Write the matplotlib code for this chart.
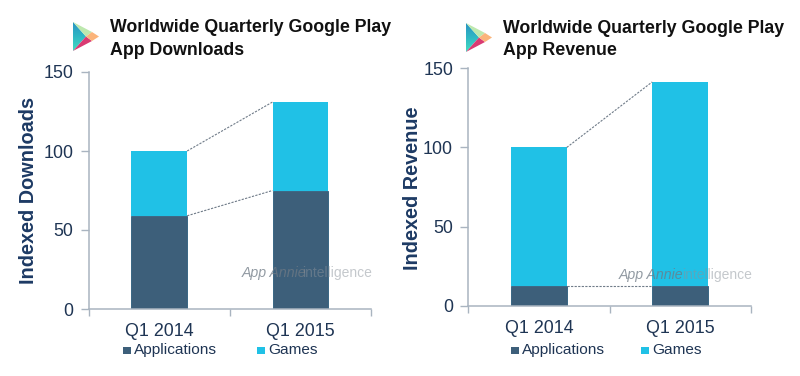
import matplotlib
matplotlib.use("Agg")
import matplotlib.pyplot as plt
import numpy as np
from matplotlib.colors import LinearSegmentedColormap
from matplotlib.patches import Polygon, Rectangle

plt.rcParams['font.family'] = ['Liberation Sans', 'DejaVu Sans']

W, H = 800, 376
quarters = ["Q1 2014", "Q1 2015"]
dl_apps = [59, 75]
dl_games = [41, 56]
rev_apps = [12.4, 12.4]
rev_games = [87.6, 129]
yticks = [0, 50, 100, 150]
series_names = ["Applications", "Games"]
C_APPS = "#3d5f7a"
C_GAMES = "#20c1e6"
C_AXIS = "#a9b4c0"
C_TEXT = "#1f3554"
C_LABEL = "#1d3a64"

fig = plt.figure(figsize=(W / 100, H / 100), dpi=100, facecolor="white")


def px_axes(x0, x1, ytop, ybot):
    return fig.add_axes([x0 / W, 1 - ybot / H, (x1 - x0) / W, (ybot - ytop) / H])


def logo(x, y):
    """Google Play triangle, x/y = top-left pixel; 26x29 px."""
    a = px_axes(x, x + 26, y, y + 29)
    a.set_xlim(0, 26)
    a.set_ylim(29, 0)
    a.axis("off")
    cmap = LinearSegmentedColormap.from_list("play", ["#2a93c2", "#2fb8c4", "#45dcc0"])
    grad = np.linspace(0, 1, 64).reshape(-1, 1)
    im = a.imshow(grad, cmap=cmap, extent=(0, 14, 29, 0), aspect="auto", zorder=1)
    clip = Polygon([(0, 0), (0, 29), (13, 14.5)], transform=a.transData,
                   facecolor="none", edgecolor="none")
    a.add_patch(clip)
    im.set_clip_path(clip)
    a.set_xlim(0, 26)
    a.set_ylim(29, 0)
    a.add_patch(Polygon([(0, 0), (13, 14.5), (19, 10)], facecolor="#bde8ae",
                        edgecolor="none", zorder=2))
    a.add_patch(Polygon([(0, 29), (13, 14.5), (19, 19)], facecolor="#d93a72",
                        edgecolor="none", zorder=2))
    a.add_patch(Polygon([(19, 10), (13, 14.5), (19, 19), (26, 14.5)], facecolor="#fbb47a",
                        edgecolor="none", zorder=2))


def panel(box, apps, games, ylabel, ylabel_y, ylabel_x, title_name, title_xy, logo_xy,
          legend_pos, wm_pos):
    ax = px_axes(*box)
    xs = [0.5, 1.5]
    bw = 0.395
    ax.bar(xs, apps, bw, color=C_APPS, edgecolor="#2b5c7c", linewidth=0.6, zorder=2)
    ax.bar(xs, games, bw, bottom=apps, color=C_GAMES, zorder=2)
    ax.set_xlim(0, 2)
    ax.set_ylim(0, 150)
    totals = [a + g for a, g in zip(apps, games)]
    ax.plot([xs[0] + bw / 2, xs[1] - bw / 2], totals, color="#6f7b88", lw=0.8,
            ls=(0, (2, 1.2)), zorder=3)
    ax.plot([xs[0] + bw / 2, xs[1] - bw / 2], apps, color="#6f7b88", lw=0.8,
            ls=(0, (2, 1.2)), zorder=3)
    for s in ("top", "right"):
        ax.spines[s].set_visible(False)
    for s in ("left", "bottom"):
        ax.spines[s].set_color(C_AXIS)
        ax.spines[s].set_linewidth(1.1)
    ax.set_yticks(yticks)
    ax.set_xticks([0, 1, 2])
    ax.set_xticklabels([])
    ax.tick_params(axis="y", length=6, width=1, color=C_AXIS, labelsize=12.9,
                   labelcolor=C_TEXT, pad=5)
    ax.tick_params(axis="x", direction="out", length=5, width=1, color=C_AXIS)
    for x, q in zip(xs, quarters):
        ax.annotate(q, (x, 0), xytext=(0, -23), textcoords="offset pixels",
                    ha="center", va="center", fontsize=12.9, color=C_TEXT)
    ax.patch.set_alpha(0)

    fig.text(ylabel_x / W, 1 - ylabel_y / H, ylabel, rotation=90, ha="center",
             va="center", fontsize=14.3, fontweight="bold", color=C_LABEL)

    tx, ty = title_xy
    fig.text(tx / W, 1 - ty / H, "Worldwide Quarterly Google Play\nApp " + title_name,
             ha="left", va="center", fontsize=12.75, fontweight="bold",
             color="#111111", linespacing=1.4)
    logo(*logo_xy)

    # legend
    (lx1, ltx1, lx2, ltx2, ly) = legend_pos
    for lx, c in ((lx1, C_APPS), (lx2, C_GAMES)):
        fig.add_artist(Rectangle((lx / W, 1 - (ly + 4) / H), 7.5 / W, 7.5 / H,
                                 transform=fig.transFigure, facecolor=c, edgecolor="none"))
    fig.text(ltx1 / W, 1 - ly / H, series_names[0], ha="left", va="center",
             fontsize=11.1, color=C_TEXT)
    fig.text(ltx2 / W, 1 - ly / H, series_names[1], ha="left", va="center",
             fontsize=11.1, color=C_TEXT)

    # watermark
    (wx1, wx2, wy) = wm_pos
    fig.text(wx1 / W, 1 - wy / H, "App Annie", ha="left", va="center", fontsize=10.2,
             style="italic", color="#6f7a85", alpha=0.75, zorder=5)
    fig.text(wx2 / W, 1 - wy / H, "intelligence", ha="left", va="center", fontsize=10,
             color="#8a929a", alpha=0.5, zorder=5)


panel((88.7, 371, 72, 309), dl_apps, dl_games, "Indexed Downloads", 190.5, 28, "Downloads",
      (110, 39), (73, 22), (123, 134, 257, 268, 350), (242, 302, 273))
panel((468.3, 750.7, 68.3, 305.7), rev_apps, rev_games, "Indexed Revenue", 188, 413, "Revenue",
      (503, 39.5), (466, 23), (511, 522, 641, 652, 350), (619, 682, 275))

fig.savefig("out.png", dpi=100, facecolor="white")
